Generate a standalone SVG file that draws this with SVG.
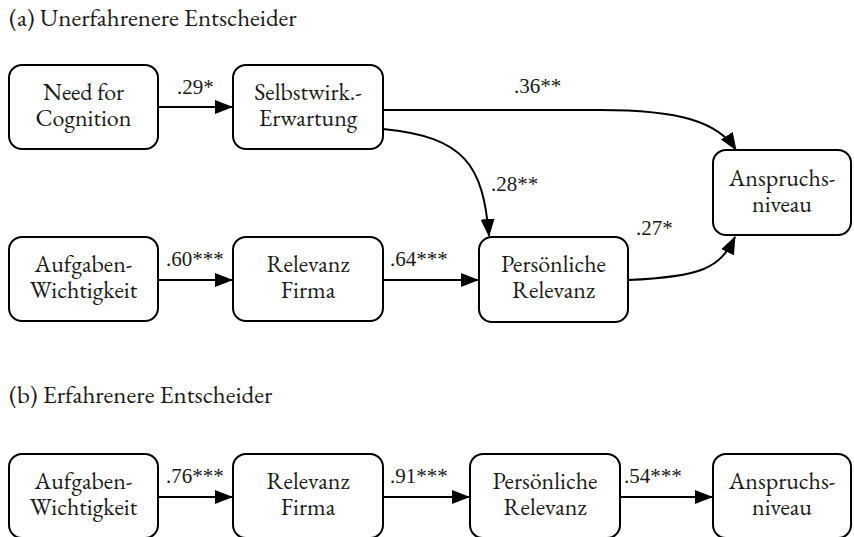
<svg xmlns="http://www.w3.org/2000/svg" width="854" height="537" viewBox="0 0 854 537">
<style>
.box{fill:#fff;stroke:#000;stroke-width:2}
.t{font-size:24px;fill:#1a1a1a;text-anchor:middle}
.ttl{font-size:25px;fill:#1a1a1a}
.lb{font-family:'Liberation Serif', serif;font-size:21px;fill:#1a1a1a}
.e{fill:none;stroke:#000;stroke-width:2;marker-end:url(#ah)}
</style>
<defs>
<marker id="ah" markerUnits="userSpaceOnUse" markerWidth="18" markerHeight="14" viewBox="0 0 18 14" refX="17" refY="7" orient="auto">
<path d="M0,0 L18,7 L0,14 Z" fill="#000"/>
</marker>
</defs>
<rect width="854" height="537" fill="#fff"/>
<g font-family="'EB Garamond', Garamond, 'Liberation Serif', serif">
<text class="ttl" x="9" y="26">(a) Unerfahrenere Entscheider</text>
<text class="ttl" x="9" y="403">(b) Erfahrenere Entscheider</text>

<g id="connectors">
<path class="e" d="M158,107 L232,107"/>
<path class="e" d="M158,280 L232,280"/>
<path class="e" d="M383,280 L478,280"/>
<path class="e" d="M383,110 L600,110 C680,110 718,122 736,150"/>
<path class="e" d="M383,129 C465,137 483,165 489,236"/>
<path class="e" d="M628,280 C702,277 720,268 735,237"/>
<path class="e" d="M158,497 L232,497"/>
<path class="e" d="M383,497 L469,497"/>
<path class="e" d="M620,497 L712,497"/>
<text class="lb" x="177" y="94">.29*</text>
<text class="lb" x="514" y="93">.36**</text>
<text class="lb" x="491" y="191">.28**</text>
<text class="lb" x="636" y="235">.27*</text>
<text class="lb" x="166" y="266">.60***</text>
<text class="lb" x="390" y="266">.64***</text>
<text class="lb" x="166" y="483">.76***</text>
<text class="lb" x="390" y="483">.91***</text>
<text class="lb" x="624" y="483">.54***</text>
</g>

<g id="a_nfc"><rect class="box" x="9" y="65" width="149" height="84" rx="13"/>
<text class="t" x="83.5" y="100">Need for<tspan x="83.5" dy="26">Cognition</tspan></text></g>
<g id="a_se"><rect class="box" x="233" y="65" width="150" height="84" rx="13"/>
<text class="t" x="308" y="100">Selbstwirk.-<tspan x="308" dy="26">Erwartung</tspan></text></g>
<g id="a_an"><rect class="box" x="713" y="150" width="138" height="85" rx="13"/>
<text class="t" x="782" y="186">Anspruchs-<tspan x="782" dy="26">niveau</tspan></text></g>
<g id="a_aw"><rect class="box" x="9" y="237" width="149" height="84" rx="13"/>
<text class="t" x="83.5" y="272">Aufgaben-<tspan x="83.5" dy="26">Wichtigkeit</tspan></text></g>
<g id="a_rf"><rect class="box" x="233" y="237" width="150" height="84" rx="13"/>
<text class="t" x="308" y="272">Relevanz<tspan x="308" dy="26">Firma</tspan></text></g>
<g id="a_pr"><rect class="box" x="479" y="237" width="149" height="85" rx="13"/>
<text class="t" x="553.5" y="272">Persönliche<tspan x="553.5" dy="26">Relevanz</tspan></text></g>

<g id="b_aw"><rect class="box" x="9" y="454" width="149" height="84" rx="13"/>
<text class="t" x="83.5" y="489">Aufgaben-<tspan x="83.5" dy="26">Wichtigkeit</tspan></text></g>
<g id="b_rf"><rect class="box" x="233" y="454" width="150" height="84" rx="13"/>
<text class="t" x="308" y="489">Relevanz<tspan x="308" dy="26">Firma</tspan></text></g>
<g id="b_pr"><rect class="box" x="470" y="454" width="150" height="84" rx="13"/>
<text class="t" x="545" y="489">Persönliche<tspan x="545" dy="26">Relevanz</tspan></text></g>
<g id="b_an"><rect class="box" x="713" y="454" width="138" height="84" rx="13"/>
<text class="t" x="782" y="489">Anspruchs-<tspan x="782" dy="26">niveau</tspan></text></g>
</g>
</svg>
